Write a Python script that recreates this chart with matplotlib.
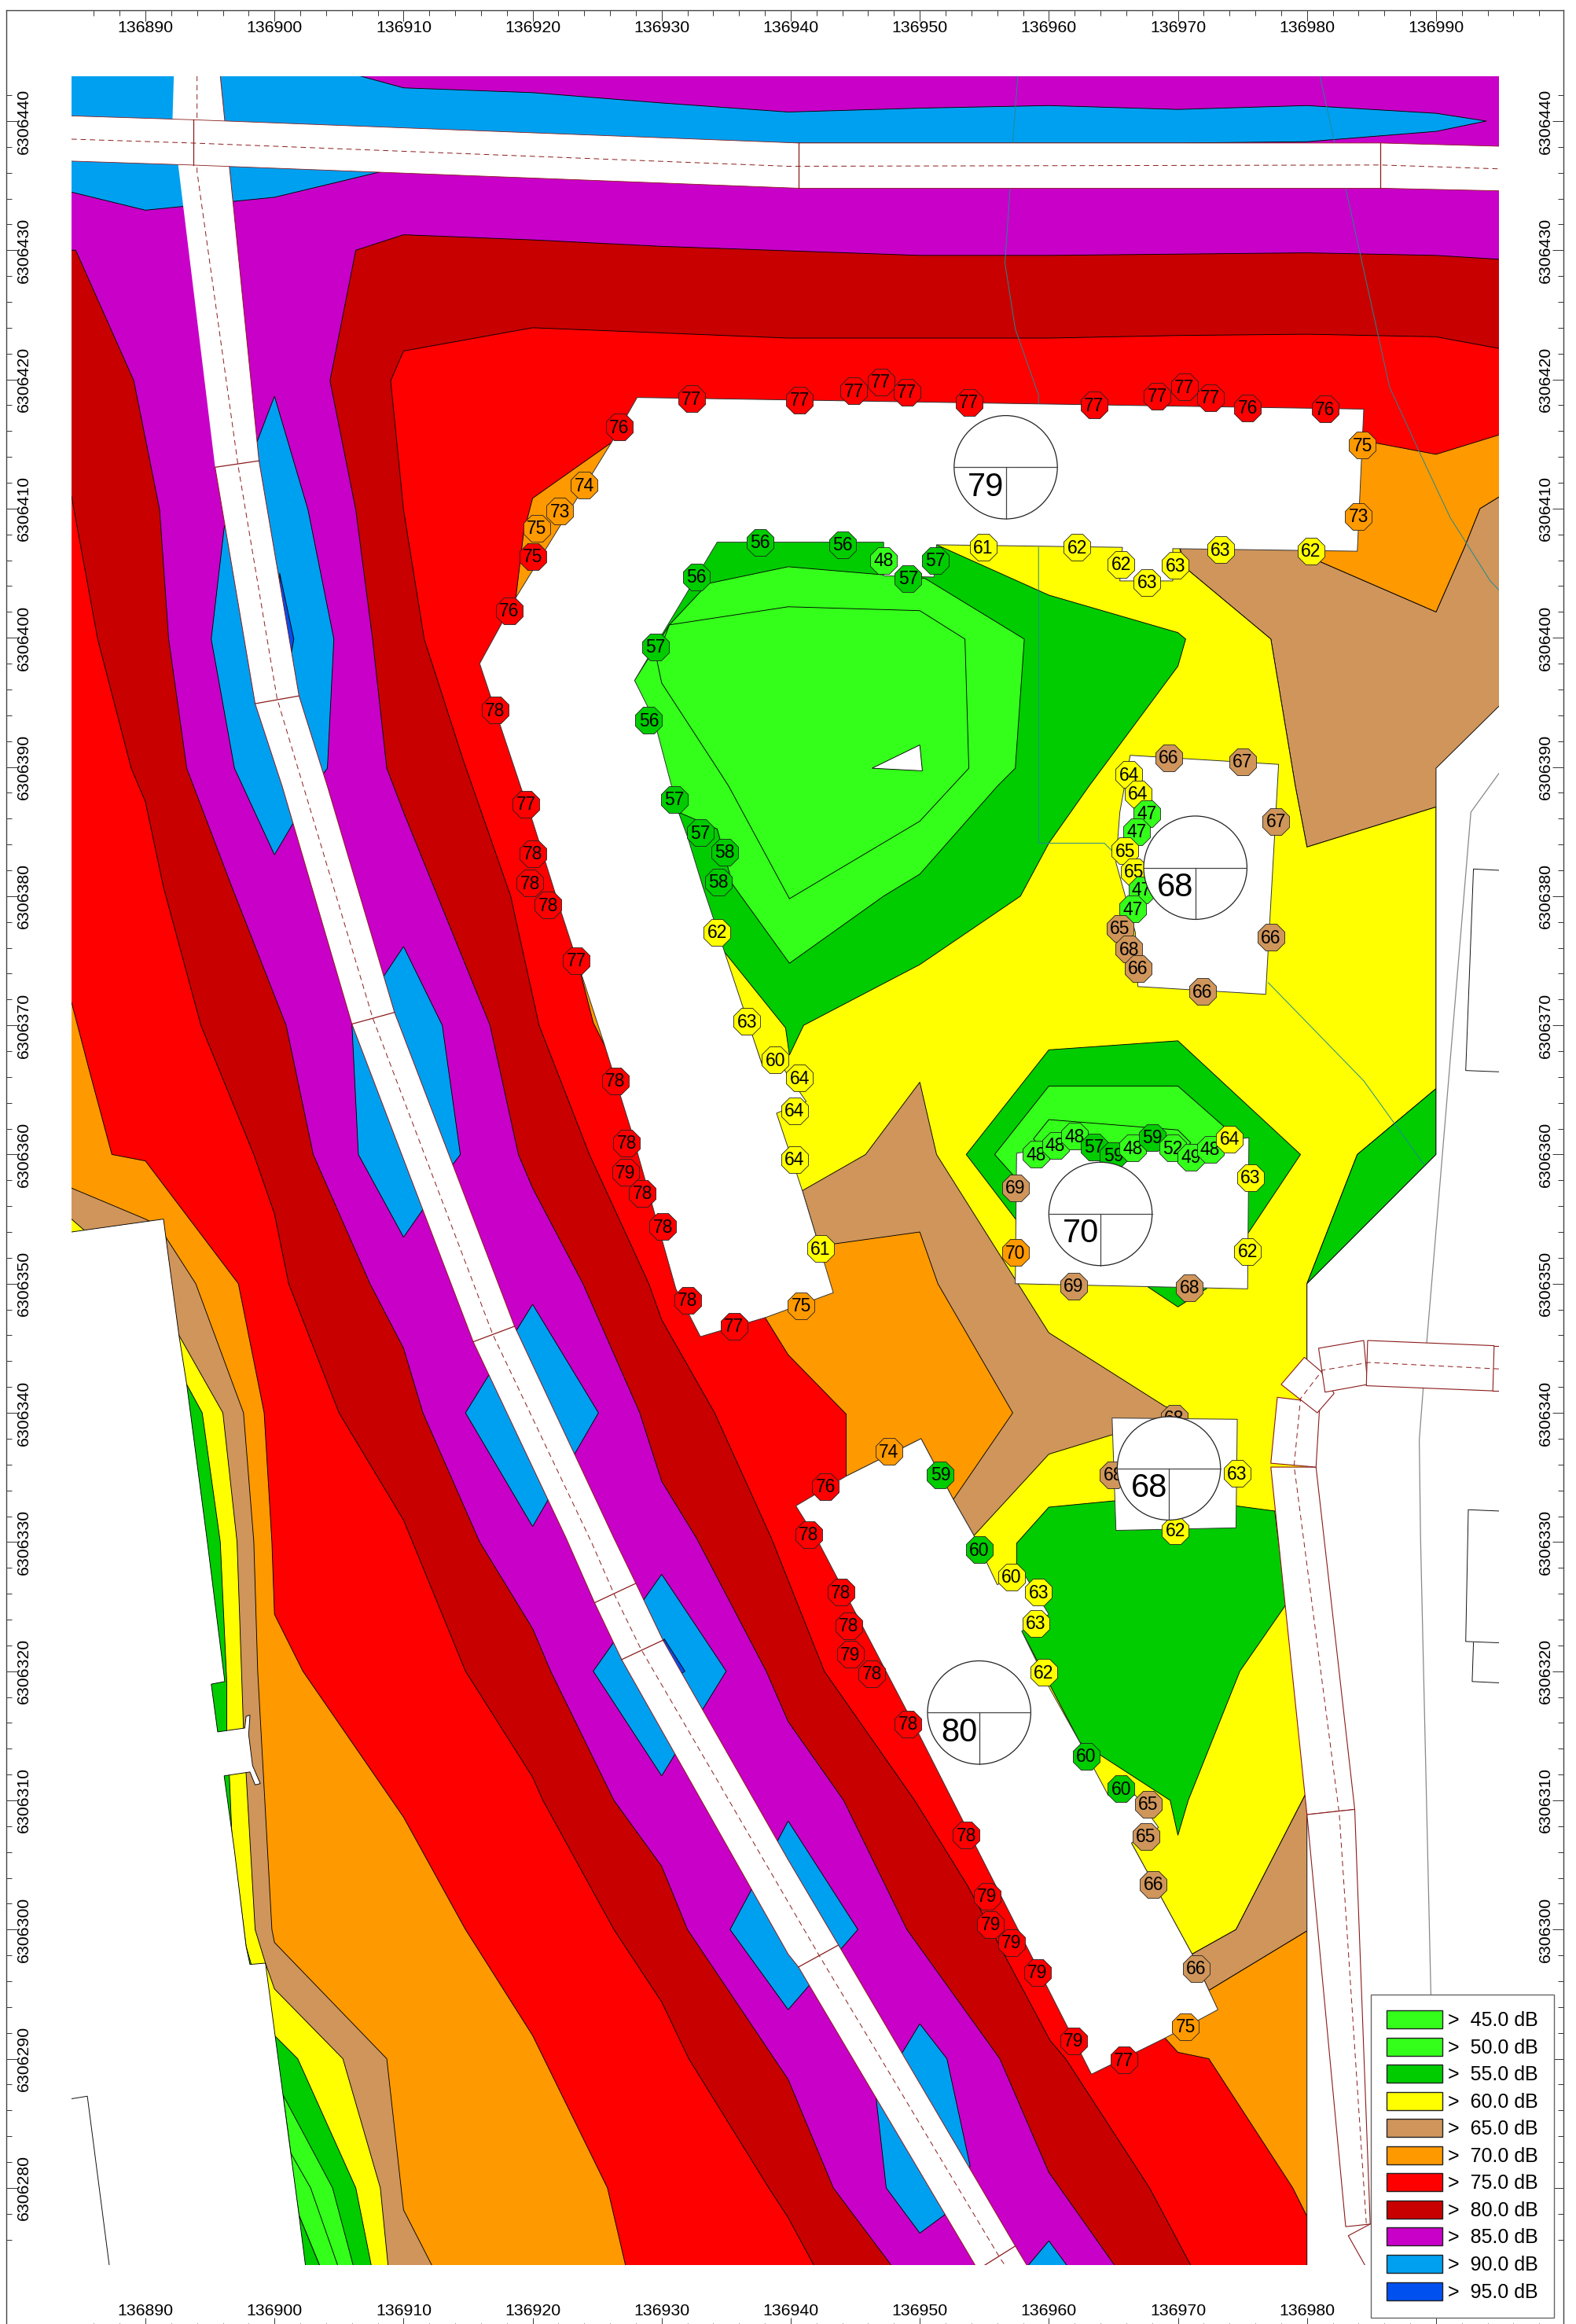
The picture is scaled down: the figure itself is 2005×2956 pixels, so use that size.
# -*- coding:utf-8 -*-
# noise map, map coordinates kept relative to 136800 / 6306200
import matplotlib
matplotlib.use('Agg')
import numpy as np
import matplotlib.pyplot as plt
from matplotlib.patches import Polygon, Circle, Patch, Rectangle
from matplotlib.ticker import FixedLocator, FuncFormatter

plt.rcParams['font.family'] = ['Liberation Sans', 'DejaVu Sans']

X_BASE = 136800
Y_BASE = 6306200

# calculation area
XL, XR, YB, YT = 84.27, 194.87, 74.0, 243.47

x_major = np.arange(90, 191, 10)
x_minor = np.arange(86, 199, 2)
y_major = np.arange(80, 241, 10)
y_minor = np.arange(76, 243, 2)

COL = {'l': '#33ff1a', 'g': '#00cc00', 'y': '#ffff00', 't': '#cf955a', 'o': '#ff9900',
       'r': '#ff0000', 'd': '#c80000', 'p': '#c800c8', 'b': '#00a0f0', 'n': '#0050f0'}

legend_levels = ['45.0', '50.0', '55.0', '60.0', '65.0', '70.0', '75.0', '80.0', '85.0', '90.0', '95.0']
legend_bands = ['l', 'l', 'g', 'y', 't', 'o', 'r', 'd', 'p', 'b', 'n']

# contour bands west of the road
dr_west = [(80, 230.1), (84.6, 230), (89.1, 219.9), (91.1, 209.9), (91.8, 199.9), (93.2, 189.9), (96.7, 180.7),
           (100.9, 170), (103, 160), (107.4, 150), (110, 145), (111.5, 140), (115.9, 130), (120, 123.3), (121.4, 120),
           (126.3, 110), (130, 104.9), (132, 100), (139.8, 88.4), (143.3, 80), (147.8, 74), (147.8, 70), (80, 70)]
red_west = [(80, 211), (84.27, 211), (86.3, 199.9), (88.9, 189.9), (90, 187.3), (91.4, 180.7), (94.3, 170), (98.4, 160),
            (100, 155.4), (101.1, 150), (105, 140), (110, 131.7), (114.8, 120), (120, 111.8), (120.8, 110), (126.3, 100),
            (130, 94.4), (132.1, 90), (138.3, 80), (139.8, 77.7), (141.8, 74), (141.8, 70), (80, 70)]
orange_west = [(80, 171.8), (84.27, 171.8), (85.6, 166.7), (87.4, 160), (90, 159.5), (97.2, 150), (99.2, 140), (99.8, 130),
               (100, 124.4), (102.2, 120), (110, 108.7), (114.8, 100), (120, 91.8), (125.8, 80), (127.2, 74), (127.2, 70), (80, 70)]
tan_west = [(80, 157.4), (84.27, 157.4), (90, 155), (91, 154.5), (93.9, 150), (97.6, 140), (98.4, 130), (98.7, 120),
            (99.8, 100), (100, 99), (108.7, 90), (110, 78.3), (112.2, 74), (112.2, 70), (80, 70)]
yellow_west = [(80, 155), (84.27, 155), (85.3, 154.1), (92.6, 146), (96, 140), (97.1, 130), (97.6, 115.5), (98.5, 100),
               (99.3, 97.4), (100, 95.4), (105.3, 90), (108.2, 80), (108.8, 74), (108.8, 70), (80, 70)]
green_west = [(84, 142.2), (93.2, 142.2), (94.4, 140), (95.8, 130), (96.3, 119.2), (96.3, 115.4), (96.5, 112), (96.7, 107.3),
              (97.8, 98.7), (98.2, 97.3), (100, 91.8), (101.8, 90), (106.3, 80), (107.5, 74), (107.5, 70), (84, 70)]
lgreen_west = [(100.66, 87.2), (104.5, 80), (106.1, 74), (103.5, 74), (101.9, 77.9)]
lgreen_west2 = [(101.2, 82.8), (102.8, 80), (104.9, 74), (103.5, 74), (101.9, 77.9)]

# contour bands east of the road
blue_top = [(80, 243.5), (106.6, 243.5), (110, 242.57), (120, 242.2), (130, 241.4), (139.8, 240.7), (150, 241), (160, 241.2),
            (170, 240.9), (180, 241.2), (190, 240.6), (193.9, 240), (190, 239.2), (180, 238.4), (170, 238.3), (150, 238.3),
            (137, 238.3), (130, 237.5), (110, 236.5), (100, 234.1), (90, 233.1), (84.27, 234.5), (80, 234.5)]
dr_east = [(200, 229.3), (194.87, 229.3), (190, 229.6), (180, 229.8), (170, 229.7), (160, 229.6), (150, 229.6), (130, 230.3),
           (120, 230.8), (110, 231.2), (106.3, 230), (104.3, 219.9), (106.3, 209.9), (107.6, 199.9), (108.7, 189.9), (110, 186.5),
           (113, 179.1), (116.7, 170), (118.9, 160), (120, 157.4), (123.9, 150), (128.3, 140), (130, 134.7), (132.7, 130.3),
           (138.1, 120), (139.8, 116.1), (144.1, 110), (149, 100), (156.2, 90), (160, 81.2), (165.1, 74), (165.1, 70), (200, 70)]
red_east = [(200, 222.4), (194.87, 222.4), (190, 223.3), (180, 223.5), (170, 223.4), (160, 223.2), (139.8, 223.2), (130, 223.6),
            (120, 224), (110, 222.2), (109, 219.9), (110, 209.9), (111.6, 199.9), (114.6, 190.6), (118.3, 180), (120.5, 170),
            (124.4, 160), (129, 150), (130, 147.2), (134.1, 140), (138.5, 130.3), (142.6, 120), (149.6, 110), (153.7, 103.4),
            (160.1, 91.4), (161.3, 90), (167.8, 80), (171, 74), (171, 70), (200, 70)]
orange_se = [(169, 91.6), (170, 90.5), (172.4, 90), (178.9, 80), (180, 77.8), (181, 77.8), (181, 99.9), (180, 99.9), (172.4, 95.3)]
orange_nw_sliver = [(118.7, 203.1), (119.3, 208.1), (120, 210.8), (126.1, 215.1), (125, 205)]
orange_w_sliver = [(123.7, 174.1), (124.7, 170.2), (125.6, 168.4), (128, 170)]
tan_ne = [(200, 210.9), (194.87, 210.9), (193.4, 210), (192.2, 207), (190, 202), (181, 205.9), (180, 207.5), (170, 207.5),
          (170.6, 205.4), (177.2, 199.9), (179.1, 188.5), (180, 183.8), (190, 186.9), (190, 185), (200, 185)]
orange_ne = [(200, 215.7), (194.87, 215.7), (190, 214.2), (185.2, 215.1), (182, 214.8), (180, 207), (181, 205.9),
             (190, 202), (192.2, 207), (193.4, 210), (194.87, 210.9), (200, 210.9)]
yellow_main = [(151.3, 208), (169.8, 208), (170.6, 205.4), (177.2, 199.9), (179.1, 188.5), (180, 183.8), (190, 186.9),
               (190, 165.1), (183.9, 160), (180, 150), (180, 110.7), (174.5, 100), (171.1, 98.1), (166.4, 106.7), (155, 125),
               (150, 140), (140, 150), (137.8, 166.9), (134.6, 176), (145, 195)]
tan_center = [(140.9, 157.2), (145.8, 160), (150, 165.6), (151.3, 160), (160, 146.2), (169, 140.5), (170, 140.2), (171, 138.7),
              (164.9, 138.3), (160, 136.8), (154.2, 130.5), (152.6, 133.3), (150, 145), (143.3, 149.3)]
orange_center = [(142.8, 153), (150, 154), (151.4, 150), (157.2, 140), (152.6, 133.3), (150.1, 138), (144.3, 135.1),
                 (144.3, 139.9), (139.8, 144.5), (138, 147.4)]
tan_se = [(171.1, 98.1), (174.5, 100), (180, 110.7), (181, 110.7), (181, 99.9), (180, 99.9), (172.4, 95.3)]
green_court = [(134.3, 208.5), (151.1, 208.5), (151.3, 207.2), (160, 203.3), (170, 200.4), (170.6, 199.9), (170, 197.8),
               (163.1, 188.5), (160, 184.1), (157.8, 180), (150, 174.7), (141, 170), (139.9, 167.7), (139.6, 169.8),
               (134.6, 176), (133.2, 180.7), (131.3, 186.5), (127.9, 196.7)]
lgreen_court = [(133.6, 204.2), (139.8, 205.5), (150.4, 204.6), (158.1, 199.9), (157.4, 189.9), (156, 188.5), (150, 181.7),
                (147.2, 180), (139.9, 174.8), (135.5, 180.9), (134.3, 185.2), (131.3, 186.5), (127.9, 196.7), (130.6, 201)]
lgreen_court2 = [(130.6, 201), (139.8, 202.4), (150, 202.1), (153.5, 199.9), (153.8, 189.9), (152.5, 188.5), (150, 185.8),
                 (139.9, 179.8), (135.2, 188.5), (134.3, 189.9), (130, 196.5), (129.6, 198.4)]
court_hole = [(146.3, 189.9), (150, 191.7), (150.2, 189.7)]
green_70 = [(153.6, 160), (160, 168.1), (170, 168.8), (179.5, 160), (175.5, 154), (172.2, 149.6), (170, 148.2), (167.6, 149.8), (157.5, 154.9)]
lgreen_70 = [(155.8, 160), (160, 165.3), (170, 165.3), (174.1, 161.7), (174, 159), (157.5, 158.1)]
lgreen_70b = [(158.8, 161.2), (160, 162.7), (170, 161.9), (171, 160.9), (170, 160), (160, 160)]
green_south = [(157.5, 129.9), (160, 132.7), (165.2, 133.2), (174.5, 132.8), (177.5, 132.4), (178.4, 125.2), (174.8, 120),
               (170.8, 110), (170, 107.3), (169.4, 110), (164, 113.5), (162.4, 114.5), (157.9, 123.1), (157.5, 128.3)]
green_east = [(190, 165.1), (183.9, 160), (180, 150), (190, 160)]

# level > 90 patches along the road
blue_1 = [(100, 218.7), (102.6, 209.9), (104.6, 199.9), (104.1, 189.9), (103.8, 189.5), (101.3, 185.4), (100, 183.2),
          (96.9, 189.9), (95.1, 199.9), (96.1, 208.5)]
navy_1 = [(100.4, 205), (101.5, 199.9), (101.3, 198.8), (100.5, 199)]
blue_2 = [(110, 176.1), (113, 170), (114.4, 160), (113.8, 159.2), (111.4, 155.6), (110, 153.6), (106.5, 160), (106, 170.1)]
blue_3 = [(120, 148.4), (125.1, 140), (120, 131.2), (114.8, 140)]
blue_4 = [(130, 127.5), (135, 120), (130, 111.9), (124.7, 120)]
navy_4 = [(130.2, 122.5), (131.8, 120), (131.5, 119.8), (130, 122)]
blue_5 = [(139.8, 108.4), (145.2, 100), (139.8, 93.8), (135.3, 100)]
blue_6 = [(150, 92.7), (152.1, 90), (153.9, 81.7), (151.9, 77.9), (150, 76.5), (147.4, 80), (146.6, 87.1)]
blue_7 = [(160, 75.9), (161.4, 74), (161.4, 70), (158.4, 70), (158.4, 74)]

# areas outside the calculation, buildings
white_west = [(80, 154), (84.27, 154), (91.4, 155), (91.7, 152.7), (92.6, 146), (93.2, 142.2), (94.8, 130), (96.15, 119.2), (95.1, 119),
              (95.6, 115.3), (97.7, 115.6), (97.8, 116.5), (98.1, 116.6), (98, 115.1), (98.3, 112.7), (98.9, 111.3), (98.5, 111.2),
              (98.1, 112.2), (96.1, 111.9), (96.9, 106.1), (97.8, 98.7), (98.1, 97.3), (99.3, 97.4), (101.9, 77.9), (102.4, 74),
              (102.4, 70), (80, 70)]
white_east = [(194.87, 194.7), (190, 189.9), (190, 160), (180, 150), (180, 70), (200, 70), (200, 194.7)]
building_main = [(128.1, 218.6), (184.4, 217.7), (183.9, 206.7), (169.6, 206.9), (169.6, 204.4), (165.5, 204.4), (165.7, 207),
                 (151.3, 207.2), (151.1, 204.7), (147.2, 204.8), (147.2, 207.4), (134.3, 207.4), (127.9, 196.7), (129.4, 193.7),
                 (131.3, 186.5), (132, 184.6), (133.2, 180.7), (137.8, 166.9), (139.2, 167), (141.2, 164.1), (138.9, 163.2),
                 (140.9, 157.2), (143.3, 149.3), (138.1, 147.4), (133, 145.9), (131.1, 149.6), (127.6, 162), (125.6, 168.4),
                 (122.2, 178.8), (120, 185.8), (119.1, 188.4), (115.9, 198), (118.7, 203.1), (126.1, 215.1)]
building_68n = [(166.3, 190.9), (177.8, 190.2), (176.8, 172.4), (166.9, 173), (166.7, 177.2), (165.2, 182.6), (165.5, 186.5)]
building_70 = [(157.5, 160.1), (161, 160.6), (170, 160.6), (175.5, 161.3), (175.4, 149.6), (157.4, 150)]
building_68s = [(164.9, 139.6), (174.6, 139.5), (174.5, 131.1), (165.2, 130.9)]
building_80 = [(150.1, 138), (152.6, 133.3), (154.2, 130.5), (156, 126.7), (158.1, 127.5), (160, 124.4), (157.9, 123.1), (160.1, 118.6),
               (162.4, 114.5), (164.6, 110.4), (166.7, 110.4), (168.5, 107.9), (166.4, 106.7), (171.1, 98.1), (172.4, 95.3), (173.1, 93.8),
               (169, 91.6), (163.3, 88.8), (150, 115), (142.2, 129.9), (140.4, 132.8), (144.3, 135.1)]

# roads
road_ew = [(80, 240.5), (84.27, 240.4), (93.7, 240.1), (140.6, 238.3), (185.7, 238.3), (194.87, 238.05), (200, 238),
           (200, 234.5), (194.87, 234.6), (185.7, 234.8), (140.6, 234.8), (93.5, 236.6), (84.27, 236.9), (80, 237)]
road_ew_mid = [(84.27, 238.6), (93.6, 238.3), (139.8, 236.5), (185.7, 236.6), (194.87, 236.3)]
road_ew_cuts_x = [93.7, 140.6, 185.7]
road_ew_cuts_top = [240.1, 238.3, 238.3]
road_ew_cuts_low = [236.6, 234.8, 234.8]
road_ns_left = [(92.2, 243.5), (92.1, 240.2), (95.4, 213.2), (98.5, 194.9), (100.6, 188.5), (106, 170.1), (115.4, 145.5),
                (122.6, 130.3), (124.8, 125.3), (126.9, 120.9), (139.8, 98.1), (140.6, 97.1), (154.3, 74)]
road_ns_right = [(95.8, 243.5), (98.8, 213.7), (101.9, 195.5), (104.1, 188.5), (109.3, 171), (118.6, 146.7), (126.3, 130.3),
                 (128, 126.8), (130.1, 122.4), (139.8, 105.4), (143.7, 98.8), (157.4, 75.5), (158.3, 74)]
road_ns_mid = [(94, 243.5), (94, 236.1), (97.2, 213.2), (100.2, 195.3), (107.6, 170.6), (116.9, 146.1), (124.6, 129.9),
               (126.3, 126), (128.4, 121.7), (142.2, 98), (156.2, 74.6), (156.6, 74)]
road_ns_cuts = [((95.4, 213.2), (98.8, 213.7)), ((98.5, 194.9), (101.9, 195.5)), ((106, 170.1), (109.3, 171)),
                ((115.4, 145.5), (118.6, 146.7)), ((124.8, 125.3), (128, 126.8)), ((126.9, 120.9), (130.1, 122.4)),
                ((140.6, 97.1), (143.7, 98.8)), ((155, 74), (157.4, 75.5))]
ramp_1 = [(184.7, 145.6), (194.5, 145.2), (194.4, 141.7), (184.6, 142.1)]
ramp_2 = [(180.9, 145), (184.4, 145.6), (184.7, 142.2), (181.4, 141.6)]
ramp_3 = [(179.8, 144.3), (181.1, 143.2), (182.1, 141.5), (180.8, 140), (178, 142.2)]
ramp_4 = [(177.7, 141.2), (181, 140.8), (180.7, 135.8), (177.2, 136.1)]
ramp_5 = [(177.2, 135.8), (180.7, 135.8), (183.7, 109.3), (180, 108.9)]
ramp_6 = [(180, 108.9), (183.7, 109.3), (184.9, 77.2), (183, 77)]
ramp_mid = [(194.87, 143.4), (184.8, 143.9), (181.2, 143.3), (179.5, 141.1), (179, 135.9), (182.5, 109), (184.6, 77.2)]
ramp_tail = [(184.9, 77.2), (183.2, 76.3), (184.5, 74)]
ramp_stub_top = [(194.5, 145.2), (194.87, 145.2)]
ramp_stub_low = [(194.4, 141.7), (194.87, 141.7)]

# thin lines
teal_1a = [(157.6, 243.5), (157.2, 238.3), (157, 234.8), (156.6, 229), (157.4, 223.9), (159.2, 218.8), (159.2, 218)]
teal_1b = [(159.2, 207), (159.2, 184.1), (164.3, 184.1), (165.2, 183.2)]
teal_2 = [(181, 243.5), (182.1, 238.5), (183, 234.8), (186.4, 219.4), (188.7, 214.4), (191.1, 209.3), (194.2, 204.4), (194.87, 203.7)]
teal_3 = [(177, 173.3), (184.4, 165.7), (189.3, 158.9), (194.87, 151.6)]
grey_line = [(194.87, 189.5), (192.7, 186.5), (189.3, 145.7), (188.7, 137.9), (188.8, 130.3), (189.6, 95)]
house_1 = [(194.87, 182), (192.9, 182.1), (192.3, 166.5), (194.87, 166.4)]
house_2 = [(194.87, 132.4), (192.5, 132.5), (192.3, 122.3), (194.87, 122.2)]
house_3 = [(192.9, 122.2), (192.8, 119.2), (194.87, 119.1)]
house_4 = [(84.27, 86.9), (85.5, 87.1), (87.2, 74)]

# receiver points (x, y, value, colour band)
recv_west = [(132.3, 218.5, 77, 'r'), (126.7, 216.3, 76, 'r'), (124, 211.8, 74, 'o'), (122.1, 209.8, 73, 'o'),
             (120.3, 208.5, 75, 'o'), (120, 206.3, 75, 'r'), (118.2, 202.1, 76, 'r'), (117.1, 194.4, 78, 'r'),
             (119.5, 187.1, 77, 'r'), (120, 183.3, 78, 'r'), (119.8, 181, 78, 'r'), (121.2, 179.3, 78, 'r'),
             (123.4, 175, 77, 'r'), (126.4, 165.7, 78, 'r'), (127.3, 160.9, 78, 'r'), (127.2, 158.6, 79, 'r'),
             (128.5, 157, 78, 'r'), (130.1, 154.4, 78, 'r'), (132, 148.7, 78, 'r'), (135.6, 146.7, 77, 'r')]
recv_north = [(140.7, 218.4, 77, 'r'), (144.9, 219.1, 77, 'r'), (147, 219.8, 77, 'r'), (149, 219, 77, 'r'),
              (153.8, 218.2, 77, 'r'), (163.5, 218, 77, 'r'), (168.4, 218.7, 77, 'r'), (170.5, 219.4, 77, 'r'),
              (172.5, 218.6, 77, 'r'), (175.4, 217.8, 76, 'r'), (181.4, 217.7, 76, 'r'), (184.3, 214.9, 75, 'o'),
              (184, 209.4, 73, 'o')]
recv_court = [(132.7, 204.7, 56, 'g'), (137.6, 207.4, 56, 'g'), (129.5, 199.3, 57, 'g'), (129, 193.6, 56, 'g'),
              (144, 207.2, 56, 'g'), (147.2, 206, 48, 'l'), (149.1, 204.6, 57, 'g'), (151.2, 206, 57, 'g'),
              (154.9, 207, 61, 'y'), (162.2, 207, 62, 'y'), (165.6, 205.7, 62, 'y'), (167.6, 204.3, 63, 'y'),
              (169.8, 205.6, 63, 'y'), (173.3, 206.8, 63, 'y'), (180.3, 206.7, 62, 'y'),
              (131, 187.5, 57, 'g'), (133, 184.9, 57, 'g'), (134.9, 183.4, 58, 'g'), (134.4, 181.1, 58, 'g'),
              (134.3, 177.2, 62, 'y'), (136.6, 170.3, 63, 'y'), (138.8, 167.3, 60, 'y'), (140.7, 165.9, 64, 'y'),
              (140.3, 163.4, 64, 'y'), (140.3, 159.6, 64, 'y'), (142.3, 152.7, 61, 'y'), (140.8, 148.3, 75, 'o')]
recv_68n = [(169.3, 190.7, 66, 't'), (175, 190.4, 67, 't'), (166.2, 189.4, 64, 'y'), (166.9, 187.9, 64, 'y'),
            (167.6, 186.4, 47, 'l'), (166.8, 185, 47, 'l'), (165.9, 183.5, 65, 'y'), (166.6, 181.9, 65, 'y'),
            (167.2, 180.5, 47, 'l'), (166.5, 179, 47, 'l'), (165.5, 177.5, 65, 't'), (166.2, 175.9, 68, 't'),
            (166.9, 174.4, 66, 't'), (171.9, 172.6, 66, 't'), (177.2, 176.8, 66, 't'), (177.6, 185.8, 67, 't')]
recv_70 = [(159, 160, 48, 'l'), (160.5, 160.7, 48, 'l'), (162, 161.4, 48, 'l'), (163.5, 160.6, 57, 'g'), (165, 159.9, 59, 'g'),
           (166.5, 160.5, 48, 'l'), (168, 161.3, 59, 'g'), (169.6, 160.5, 52, 'l'), (171, 159.8, 49, 'l'), (172.5, 160.4, 48, 'l'),
           (174, 161.2, 64, 'y'), (175.6, 158.2, 63, 'y'), (175.4, 152.5, 62, 'y'), (157.4, 157.4, 69, 't'),
           (157.4, 152.4, 70, 'o'), (161.9, 149.8, 69, 't'), (170.9, 149.7, 68, 't')]
recv_behind = [(169.7, 139.6, 68, 't')]
recv_68s = [(165, 135.2, 68, 't'), (174.6, 135.3, 63, 'y'), (169.8, 130.9, 62, 'y')]
recv_80 = [(147.6, 137, 74, 'o'), (142.7, 134.3, 76, 'r'), (151.6, 135.2, 59, 'g'), (141.4, 130.6, 78, 'r'), (154.6, 129.4, 60, 'g'),
           (157.1, 127.3, 60, 'y'), (159.2, 126.1, 63, 'y'), (159, 123.7, 63, 'y'), (159.6, 119.9, 62, 'y'), (162.9, 113.4, 60, 'g'),
           (165.6, 110.9, 60, 'g'), (167.7, 109.7, 65, 't'), (167.5, 107.2, 65, 't'), (168.1, 103.5, 66, 't'), (171.4, 97, 66, 't'),
           (170.6, 92.5, 75, 'o'), (143.9, 126.1, 78, 'r'), (144.5, 123.5, 78, 'r'), (144.6, 121.3, 79, 'r'), (146.3, 119.8, 78, 'r'),
           (149.1, 115.9, 78, 'r'), (153.6, 107.3, 78, 'r'), (155.2, 102.6, 79, 'r'), (155.5, 100.4, 79, 'r'), (157.1, 99, 79, 'r'),
           (159.1, 96.7, 79, 'r'), (161.9, 91.4, 79, 'r'), (165.8, 89.9, 77, 'r')]

# building symbols
symbol_x = [156.66, 171.35, 164, 169.3, 154.6]
symbol_y = [213.2, 182.2, 155.4, 135.7, 116.8]
symbol_val = [79, 68, 70, 68, 80]

ROAD = '#8b1a1a'
TEAL = '#1f8a94'

fig = plt.figure(figsize=(20.06, 29.56), dpi=100)
ax = fig.add_axes([8 / 2006, -6 / 2956, 1981 / 2006, 2949 / 2956])
ax.set_xlim(79.22, 199.87)
ax.set_ylim(69.1, 248.58)

clip = Rectangle((XL, YB), XR - XL, YT - YB, transform=ax.transData)
z = [1.0]


def nextz():
    z[0] += 0.008
    return z[0]


def area(pts, color, ec='black', lw=0.65):
    p = Polygon(pts, closed=True, fc=color, ec=ec, lw=lw, zorder=nextz())
    ax.add_patch(p)
    p.set_clip_path(clip)


def line(pts, color, lw=0.7, ls='-'):
    l, = ax.plot([q[0] for q in pts], [q[1] for q in pts], color=color, lw=lw, ls=ls, zorder=nextz())
    l.set_clip_path(clip)


def receivers(rows):
    for x, y, val, band in rows:
        zz = nextz()
        ax.plot([x], [y], marker='8', ms=26, mfc=COL[band], mec='#222222', mew=0.6, ls='none', zorder=zz)
        ax.text(x, y - 0.05, str(val), ha='center', va='center', fontsize=16.5, color='black', zorder=zz + 0.001)


area([(80, 70), (200, 70), (200, 248), (80, 248)], COL['p'], ec='none')
area(blue_top, COL['b'])
for poly, c in [(dr_west, 'd'), (dr_east, 'd'), (red_west, 'r'), (red_east, 'r'), (orange_west, 'o'), (tan_west, 't'),
                (yellow_west, 'y'), (green_west, 'g'), (lgreen_west, 'l'), (lgreen_west2, 'l'),
                (orange_se, 'o'), (orange_nw_sliver, 'o'), (orange_w_sliver, 'o'), (tan_ne, 't'), (orange_ne, 'o'),
                (yellow_main, 'y'), (tan_center, 't'), (orange_center, 'o'), (tan_se, 't'),
                (green_court, 'g'), (lgreen_court, 'l'), (lgreen_court2, 'l'),
                (green_70, 'g'), (lgreen_70, 'l'), (lgreen_70b, 'l'), (green_south, 'g'), (green_east, 'g'),
                (blue_1, 'b'), (navy_1, 'n'), (blue_2, 'b'), (blue_3, 'b'), (blue_4, 'b'), (navy_4, 'n'),
                (blue_5, 'b'), (blue_6, 'b'), (blue_7, 'b')]:
    area(poly, COL[c])
area(court_hole, 'white')

for t in [teal_1a, teal_1b, teal_2, teal_3]:
    line(t, TEAL, lw=0.7)

area(white_west, 'white')
area(white_east, 'white')
for h in [house_1, house_2, house_3, house_4]:
    line(h, '#111111', lw=0.7)
line(grey_line, '#888888', lw=0.9)

# diagonal road
ns = road_ns_left + road_ns_right[::-1]
area(ns, 'white', ec='none')
line(road_ns_left[2:], ROAD, lw=0.7)
line(road_ns_right, ROAD, lw=0.7)
line(road_ns_mid, ROAD, lw=0.7, ls=(0, (7, 5)))
for a, b in road_ns_cuts:
    line([a, b], ROAD, lw=0.9)
area(road_ew, 'white', ec=ROAD, lw=0.6)
line(road_ew_mid, ROAD, lw=0.7, ls=(0, (7, 5)))
for cx, ct, cl in zip(road_ew_cuts_x, road_ew_cuts_top, road_ew_cuts_low):
    line([(cx, ct), (cx, cl)], ROAD, lw=0.9)

for r in [ramp_5, ramp_6, ramp_4, ramp_3, ramp_2, ramp_1]:
    area(r, 'white', ec=ROAD, lw=0.8)
line(ramp_mid, ROAD, lw=0.7, ls=(0, (7, 5)))
line(ramp_tail, ROAD, lw=0.8)
line(ramp_stub_top, ROAD, lw=0.8)
line(ramp_stub_low, ROAD, lw=0.8)

for b in [building_main, building_68n, building_70, building_80]:
    area(b, 'white', ec='#333333', lw=0.7)

receivers(recv_behind)
area(building_68s, 'white', ec='#333333', lw=0.7)
for rows in [recv_west, recv_north, recv_court, recv_68n, recv_70, recv_68s, recv_80]:
    receivers(rows)

for sx, sy, val in zip(symbol_x, symbol_y, symbol_val):
    zz = nextz()
    ax.add_patch(Circle((sx, sy), 4.0, fc='white', ec='#222222', lw=0.9, zorder=zz))
    ax.plot([sx - 4, sx + 4], [sy, sy], color='#444444', lw=0.9, zorder=zz + 0.001)
    ax.plot([sx, sx], [sy, sy - 4], color='#444444', lw=0.9, zorder=zz + 0.001)
    ax.text(sx - 1.55, sy - 1.55, str(val), ha='center', va='center', fontsize=30, zorder=zz + 0.002)

# frame, ticks and coordinate labels inside the frame
ax.xaxis.set_major_locator(FixedLocator(x_major))
ax.xaxis.set_minor_locator(FixedLocator(x_minor))
ax.yaxis.set_major_locator(FixedLocator(y_major))
ax.yaxis.set_minor_locator(FixedLocator(y_minor))
ax.xaxis.set_major_formatter(FuncFormatter(lambda v, p: '%d' % (v + X_BASE)))
ax.yaxis.set_major_formatter(FuncFormatter(lambda v, p: '%d' % (v + Y_BASE)))
ax.tick_params(which='both', direction='in', top=True, bottom=True, left=True, right=True,
               width=0.7, color='#333333')
ax.tick_params(which='major', length=10)
ax.tick_params(which='minor', length=5)
ax.tick_params(axis='x', labeltop=True, labelbottom=True, labelsize=15.3, pad=-23)
ax.tick_params(axis='y', labelleft=True, labelright=True, labelsize=15.3, pad=-23, labelrotation=90)
for t in ax.yaxis.get_major_ticks():
    t.label1.set_va('center')
    t.label2.set_va('center')
for s in ax.spines.values():
    s.set_color('#444444')
    s.set_linewidth(1.0)

handles = [Patch(fc=COL[b], ec='#222222', lw=1.0, label='>  %s dB' % lv) for b, lv in zip(legend_bands, legend_levels)]
leg = ax.legend(handles=handles, loc='upper left', bbox_to_anchor=(1744 / 2006, 1 - 2537 / 2956),
                bbox_transform=fig.transFigure, borderaxespad=0, fontsize=18, fancybox=False, framealpha=1,
                edgecolor='#666666', handlelength=2.84, handleheight=1.04, labelspacing=0.38,
                handletextpad=0.3, borderpad=0.8)
leg.get_frame().set_linewidth(1.0)
leg.set_zorder(20)

fig.savefig('out.png', dpi=100)
